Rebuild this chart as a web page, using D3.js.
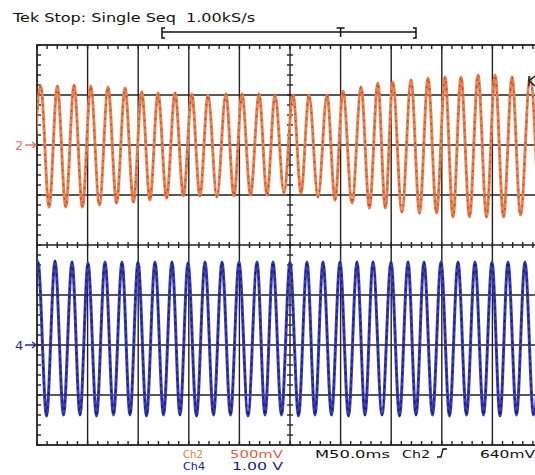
<!DOCTYPE html>
<html><head><meta charset="utf-8">
<script src="https://cdn.jsdelivr.net/npm/d3@7"></script>
<style>
html,body{margin:0;padding:0;background:#fff;overflow:hidden}
svg{display:block}
text{font-family:"DejaVu Sans",sans-serif;white-space:pre}
</style></head>
<body>
<svg id="c" width="535" height="475"></svg>
<script>
// ---------- data ----------
// Ch2 (500 mV/div): alternating trough / peak times (ms) and values (V)
const ch2Times = [-4.6,3.7,11.9,20.1,28.4,36.6,44.9,53.1,61.7,70.2,78.6,87.0,95.3,103.5,111.6,119.6,128.0,136.4,144.7,152.9,161.0,169.0,177.8,186.6,194.6,202.6,211.0,219.4,227.3,235.2,244.1,253.0,260.9,268.8,277.7,286.6,294.5,302.4,311.3,320.2,328.5,336.8,344.2,351.6,360.6,369.6,378.0,386.4,394.8,403.2,411.1,419.0,427.4,435.8,444.2,452.6,461.0,469.4,477.8,487.2,495.6];
const ch2Volts = [-0.62,0.59,-0.62,0.59,-0.62,0.60,-0.62,0.59,-0.60,0.58,-0.58,0.57,-0.57,0.53,-0.55,0.52,-0.53,0.52,-0.51,0.51,-0.51,0.50,-0.52,0.51,-0.51,0.51,-0.50,0.51,-0.50,0.50,-0.48,0.50,-0.48,0.50,-0.52,0.50,-0.55,0.54,-0.58,0.58,-0.63,0.62,-0.63,0.63,-0.67,0.65,-0.68,0.67,-0.68,0.68,-0.72,0.68,-0.72,0.70,-0.72,0.70,-0.72,0.68,-0.70,0.67,-0.70];
// Ch4 (1.00 V/div)
const ch4Times = [-7.3,1.0,9.4,17.8,26.2,34.6,42.5,50.4,58.8,67.2,75.6,84.0,91.9,99.8,108.2,116.6,125.0,133.4,141.3,149.2,157.6,166.0,174.4,182.8,191.2,199.6,208.5,217.4,225.3,233.2,241.6,250.0,258.4,266.8,274.7,282.6,291.0,299.4,307.8,316.2,324.1,332.0,340.9,349.8,358.2,366.6,374.5,382.4,390.8,399.2,407.6,416.0,424.4,432.8,441.2,449.6,457.5,465.4,473.8,482.2,490.6,499.0];
const ch4Volts = [-1.40,1.66,-1.42,1.68,-1.40,1.66,-1.40,1.64,-1.42,1.66,-1.40,1.66,-1.40,1.66,-1.42,1.66,-1.40,1.66,-1.40,1.64,-1.42,1.66,-1.40,1.66,-1.40,1.66,-1.42,1.66,-1.40,1.66,-1.40,1.66,-1.42,1.66,-1.40,1.66,-1.40,1.66,-1.42,1.66,-1.40,1.66,-1.40,1.66,-1.42,1.66,-1.40,1.66,-1.40,1.66,-1.42,1.66,-1.40,1.66,-1.40,1.66,-1.42,1.66,-1.40,1.66,-1.40,1.66];
// screen set-up
const timeDivs = [0,50,100,150,200,250,300,350,400,450,500];   // ms, 50 ms/div
const ch2Range = [-3, 1];     // V shown (ground 2 div above centre)
const ch4Range = [-2, 6];     // V shown (ground 2 div below centre)
const triggerLevel = 0.64;    // V on Ch2
const headerText = "Tek Stop: Single Seq  1.00kS/s";
const footer1 = [{t:"Ch2",c:"#d9803a"},{t:"500mV",c:"#e0604a"},{t:"M50.0ms",c:"#111"},{t:"Ch2",c:"#111"},{t:"640mV",c:"#111"}];
const footer2 = [{t:"Ch4",c:"#1a1a90"},{t:"1.00 V",c:"#1a1a90"}];

// ---------- layout ----------
const L=37, R=543, T=45, B=445;
const svg=d3.select("#c");
const x=d3.scaleLinear().domain([0,500]).range([L,R]);
const yDiv=d3.scaleLinear().domain([0,8]).range([T,B]);
const y2=d3.scaleLinear().domain(ch2Range).range([B,T]);
const y4=d3.scaleLinear().domain(ch4Range).range([B,T]);
const gridCol="#222";

// header
svg.append("text").attr("x",13).attr("y",22).attr("font-size",12.5).attr("fill","#111")
  .attr("xml:space","preserve")
  .attr("textLength",242).attr("lengthAdjust","spacingAndGlyphs").text(headerText);
// record bracket
const br=svg.append("g").attr("stroke","#111").attr("stroke-width",1.5).attr("fill","none");
br.append("line").attr("x1",162).attr("x2",416).attr("y1",32).attr("y2",32);
br.append("path").attr("d","M165,28 L162,28 L162,38 L165,38");
br.append("path").attr("d","M413,28 L416,28 L416,38 L413,38");
br.append("path").attr("d",`M${x(300)-4},28 L${x(300)+4},28 M${x(300)},28 L${x(300)},37`);

// grid
const g=svg.append("g");
const clip=svg.append("clipPath").attr("id","scr");
clip.append("rect").attr("x",L).attr("y",T).attr("width",R-L).attr("height",B-T);

timeDivs.slice(1,-1).forEach(t=>{
  g.append("line").attr("x1",x(t)).attr("x2",x(t)).attr("y1",T).attr("y2",B)
   .attr("stroke",gridCol).attr("stroke-width",1.4);
});
d3.range(1,8).forEach(d=>{
  g.append("line").attr("x1",L).attr("x2",R).attr("y1",yDiv(d)).attr("y2",yDiv(d))
   .attr("stroke",gridCol).attr("stroke-width",1.4);
});
g.append("rect").attr("x",L).attr("y",T).attr("width",R-L).attr("height",B-T)
 .attr("fill","none").attr("stroke",gridCol).attr("stroke-width",1.8);

// minor ticks
const minorT=d3.range(0,501,10);
const minorV=d3.range(0,8.01,0.2);
const tk=svg.append("g").attr("stroke",gridCol).attr("stroke-width",1.4);
minorT.forEach(t=>{
  const xx=x(t);
  tk.append("line").attr("x1",xx).attr("x2",xx).attr("y1",yDiv(4)-3).attr("y2",yDiv(4)+3);
  tk.append("line").attr("x1",xx).attr("x2",xx).attr("y1",T).attr("y2",T+4);
  tk.append("line").attr("x1",xx).attr("x2",xx).attr("y1",B-4).attr("y2",B);
});
minorV.forEach(d=>{
  const yy=yDiv(d);
  tk.append("line").attr("x1",x(250)-3).attr("x2",x(250)+3).attr("y1",yy).attr("y2",yy);
  tk.append("line").attr("x1",L).attr("x2",L+4).attr("y1",yy).attr("y2",yy);
});

// traces
const line2=d3.line().x((d,i)=>x(ch2Times[i])).y(d=>y2(d)).curve(d3.curveMonotoneX);
const line4=d3.line().x((d,i)=>x(ch4Times[i])).y(d=>y4(d)).curve(d3.curveMonotoneX);
const tr=svg.append("g").attr("clip-path","url(#scr)");
tr.append("path").attr("d",line2(ch2Volts)).attr("fill","none").attr("stroke","#e5844f").attr("stroke-width",3);
tr.append("path").attr("d",line2(ch2Volts)).attr("fill","none").attr("stroke","#cf2f2a").attr("stroke-width",1.4).attr("stroke-dasharray","2,5").attr("opacity",0.85);
tr.append("path").attr("d",line4(ch4Volts)).attr("fill","none").attr("stroke","#3c3cb4").attr("stroke-width",3);
tr.append("path").attr("d",line4(ch4Volts)).attr("fill","none").attr("stroke","#14145e").attr("stroke-width",1.4).attr("stroke-dasharray","3,4").attr("opacity",0.85);

// ground markers
function marker(yy,label,col){
  svg.append("text").attr("x",15).attr("y",yy+5).attr("font-size",13).attr("fill",col).text(label);
  svg.append("path").attr("d",`M25,${yy} L${L-1},${yy} M${L-5},${yy-3} L${L-1},${yy} L${L-5},${yy+3}`)
    .attr("stroke",col).attr("stroke-width",1.4).attr("fill","none");
}
marker(y2(0),"2","#e07a6a");
marker(y4(0),"4","#2a2a9a");

// trigger level marker at right
const ty=y2(triggerLevel);
svg.append("path").attr("d",`M535,${ty-5} L529,${ty} L535,${ty+5} M529,${ty-5} L529,${ty+5}`)
  .attr("stroke","#222").attr("stroke-width",1.5).attr("fill","none");

// footer
const f1x=[183,230,315,402,480], f1w=[20,53,75,28,55];
footer1.forEach((f,i)=>{
  svg.append("text").attr("x",f1x[i]).attr("y",458).attr("font-size",10).attr("fill",f.c)
    .attr("textLength",f1w[i]).attr("lengthAdjust","spacingAndGlyphs").text(f.t);
});
svg.append("path").attr("d","M437,457 L441,457 L443,449 L447,449").attr("stroke","#111").attr("stroke-width",1.3).attr("fill","none");
const f2x=[183,232], f2w=[22,51];
footer2.forEach((f,i)=>{
  svg.append("text").attr("x",f2x[i]).attr("y",470).attr("font-size",10).attr("fill",f.c)
    .attr("textLength",f2w[i]).attr("lengthAdjust","spacingAndGlyphs").text(f.t);
});
</script>
</body></html>
